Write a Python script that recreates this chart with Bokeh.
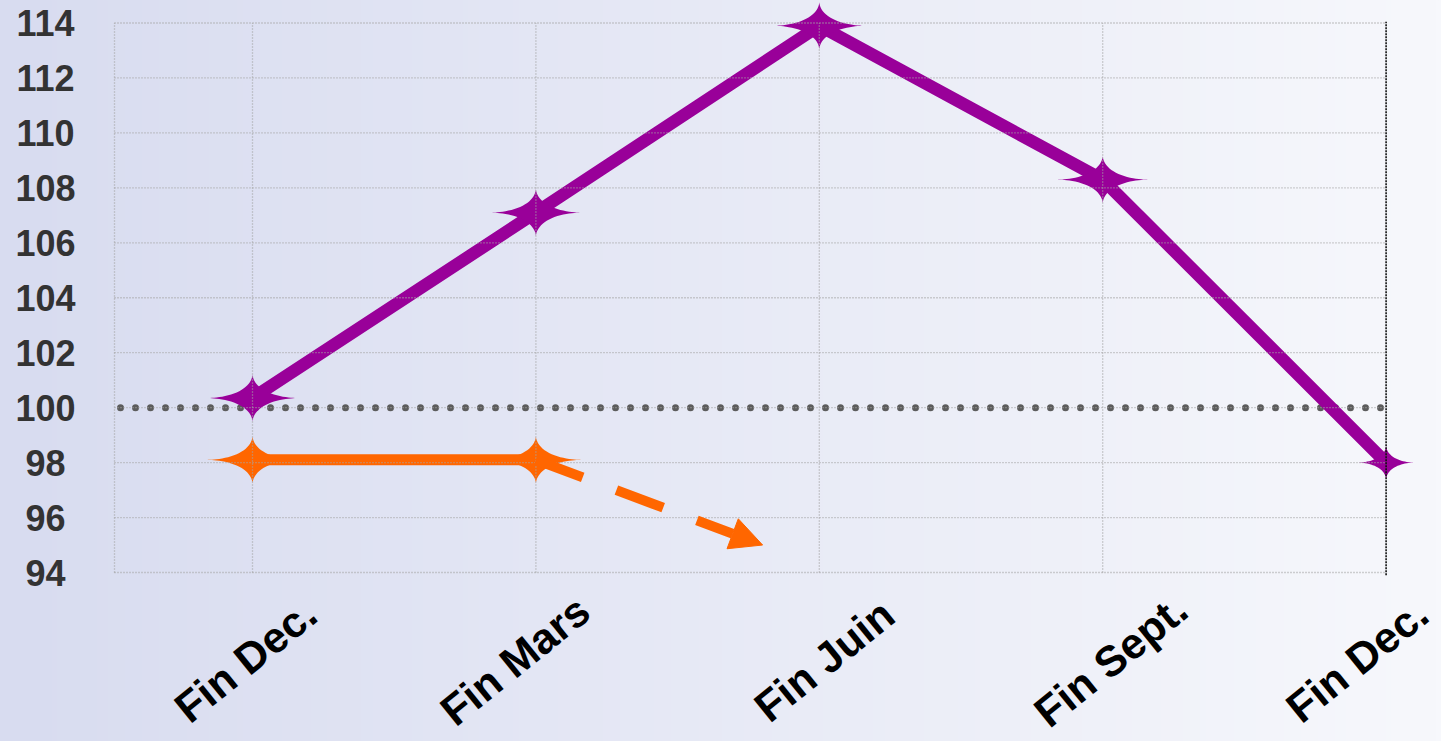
import numpy as np
from bokeh.plotting import figure
from bokeh.models import ColumnDataSource, Arrow, NormalHead, GlobalInlineStyleSheet
from bokeh.core.properties import value
from bokeh.embed import file_html
from bokeh.resources import INLINE

# ---------------- data ----------------
categories = ["Fin Dec.", "Fin Mars", "Fin Juin", "Fin Sept.", "Fin Dec."]
purple_values = [100.35, 107.1, 113.9, 108.3, 98.0]
orange_values = [98.1, 98.1]
orange_forecast_x = 1.8      # arrow tip position (between Fin Mars and Fin Juin)
orange_forecast_y = 95.0     # arrow tip value
baseline = 100
y_ticks = list(range(94, 115, 2))

# ---------------- layout (canvas pixels) ----------------
W, H = 1441, 741
X0_PX = 252.0          # canvas x of first category
X_STEP_PX = 283.4      # px per category
Y_TOP_PX = 22.5        # canvas y of top tick
Y_STEP_PX = 27.475     # px per unit
GRID_LEFT_PX = 114.0
YLAB_PX = 45.0
XLAB_PX = 660.0

ytop = max(y_ticks)
x_start = -X0_PX / X_STEP_PX
x_end = (W - X0_PX) / X_STEP_PX
y_end = ytop + Y_TOP_PX / Y_STEP_PX
y_start = ytop - (H - Y_TOP_PX) / Y_STEP_PX

def px_x(px):
    return (px - X0_PX) / X_STEP_PX

def px_y(py):
    return ytop - (py - Y_TOP_PX) / Y_STEP_PX

PURPLE = "#990099"
ORANGE = "#FF6600"

p = figure(width=W, height=H, x_range=(x_start, x_end), y_range=(y_start, y_end),
           x_axis_location=None, y_axis_location=None, toolbar_location=None,
           tools="", output_backend="svg", min_border=0)
p.outline_line_color = None
p.background_fill_alpha = 0
p.border_fill_alpha = 0
p.grid.visible = False
p.stylesheets = [GlobalInlineStyleSheet(
    css="html{background:linear-gradient(90deg,#d8dcf0,#f7f8fc);} body{background:transparent;}")]

# background gradient
nx = 256
grad = np.zeros((2, nx), dtype=np.uint32)
view = grad.view(dtype=np.uint8).reshape((2, nx, 4))
left = np.array([216, 220, 240]); right = np.array([247, 248, 252])
f = np.linspace(0, 1, nx)
for k in range(3):
    view[:, :, k] = (left[k] + (right[k] - left[k]) * f).astype(np.uint8)
view[:, :, 3] = 255
p.image_rgba(image=[grad], x=x_start, y=y_start, dw=x_end - x_start, dh=y_end - y_start)

xs_cat = list(range(len(categories)))
grid_left = px_x(GRID_LEFT_PX)
grid_right = xs_cat[-1]

# baseline dotted line
p.line(x=[grid_left + 6 / X_STEP_PX, grid_right], y=[baseline, baseline],
       line_color="#5c5c5c", line_width=7, line_dash=[0, 15], line_cap="round")

# star shape
def star(cx, cy, a_px, b_px, pw=3.6, n=120):
    t = np.linspace(0, 2 * np.pi, n, endpoint=False)
    c = np.cos(t); s = np.sin(t)
    xs = cx + np.sign(c) * np.abs(c) ** pw * a_px / X_STEP_PX
    ys = cy + np.sign(s) * np.abs(s) ** pw * b_px / Y_STEP_PX
    return list(xs), list(ys)

# orange series
ox = xs_cat[:len(orange_values)]
p.line(x=ox, y=orange_values, line_color=ORANGE, line_width=11)
arrow = Arrow(end=NormalHead(size=32, fill_color=ORANGE, line_color=ORANGE),
              x_start=ox[-1], y_start=orange_values[-1],
              x_end=orange_forecast_x, y_end=orange_forecast_y,
              line_color=ORANGE, line_width=10, line_dash="50 36", level="glyph")
p.add_layout(arrow)
oxs, oys = [], []
for x, y in zip(ox, orange_values):
    a, b = star(x, y, 46, 24)
    oxs.append(a); oys.append(b)
p.patches(xs=oxs, ys=oys, fill_color=ORANGE, line_color=None)

# purple series
p.line(x=xs_cat, y=purple_values, line_color=PURPLE, line_width=12.5, line_join="miter")
star_scale = [1, 1, 1, 1, 0.62]
pxs, pys = [], []
for x, y, sc in zip(xs_cat, purple_values, star_scale):
    a, b = star(x, y, 46 * sc, 24 * sc * 1.15 if sc < 1 else 24)
    pxs.append(a); pys.append(b)
p.patches(xs=pxs, ys=pys, fill_color=PURPLE, line_color=None)

# grid (drawn on top, like the reference)
ybot = min(y_ticks)
p.segment(x0=[grid_left] * len(y_ticks), y0=y_ticks, x1=[grid_right] * len(y_ticks), y1=y_ticks,
          line_color="#a4a4a4", line_width=1.3, line_dash="1 2")
vx = [grid_left] + xs_cat[:-1]
p.segment(x0=vx, y0=[ybot] * len(vx), x1=vx, y1=[ytop] * len(vx),
          line_color="#a4a4a4", line_width=1.3, line_dash="1 2")
p.segment(x0=[grid_right], y0=[ybot - 0.1], x1=[grid_right], y1=[ytop + 0.05],
          line_color="#111111", line_width=1.6, line_dash="2 1")

# y tick labels
p.text(x=[px_x(YLAB_PX)] * len(y_ticks), y=y_ticks, text=[str(v) for v in y_ticks],
       text_align="center", text_baseline="middle", text_font=value("Liberation Sans"),
       text_font_style="bold", text_font_size="36px", text_color="#333333")

# x category labels
label_shift = [-7, -21, 5, 8, -29]
src = ColumnDataSource(dict(x=xs_cat, y=[px_y(XLAB_PX)] * len(xs_cat), t=categories, dx=label_shift))
p.text(x="x", y="y", text="t", x_offset="dx", source=src, angle=np.deg2rad(39),
       text_align="center", text_baseline="middle", text_font=value("Liberation Sans"),
       text_font_style="bold", text_font_size="43px", text_color="#000000")

open("out.html", "w").write(file_html(p, INLINE))
